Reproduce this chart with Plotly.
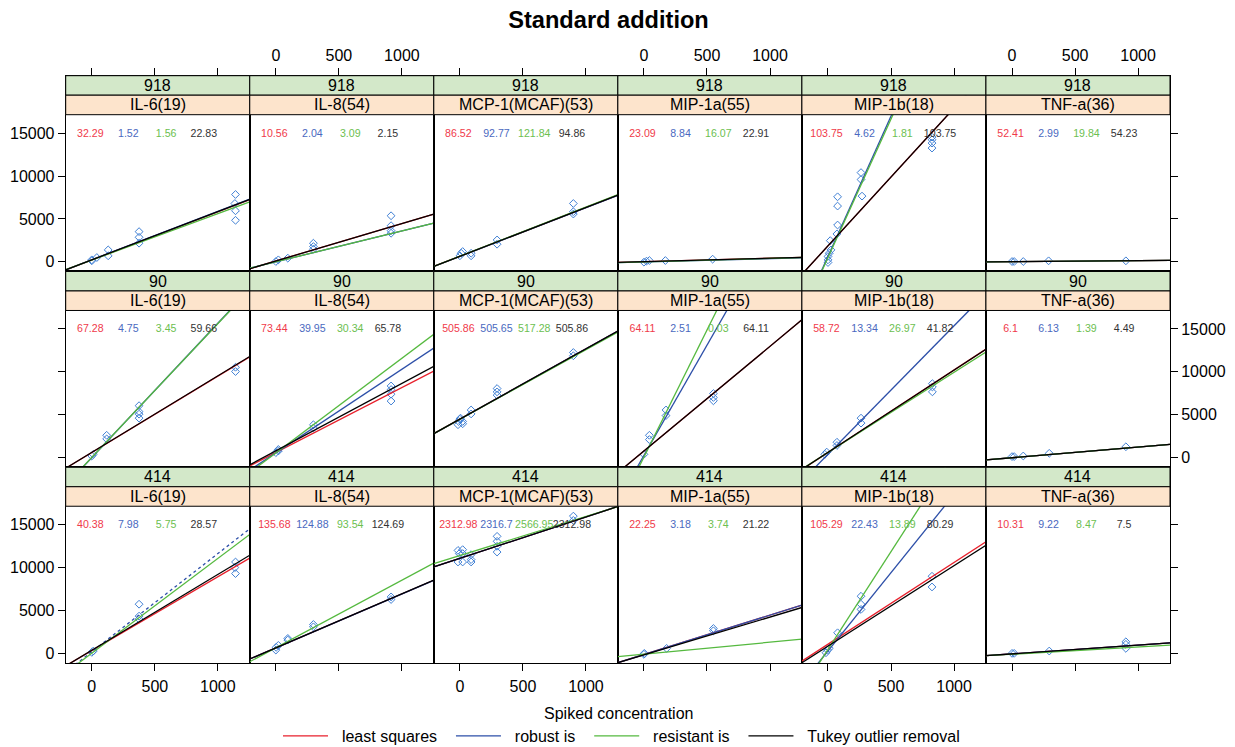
import plotly.graph_objects as go

# ---------------- data ----------------
ROW_LABELS = ["918", "90", "414"]
ANALYTES = ["IL-6(19)", "IL-8(54)", "MCP-1(MCAF)(53)", "MIP-1a(55)", "MIP-1b(18)", "TNF-a(36)"]
METHODS = ["least squares", "robust is", "resistant is", "Tukey outlier removal"]
X_TICKS = [0, 500, 1000]
Y_TICKS = [0, 5000, 10000, 15000]
X_RANGE = [-207, 1253]
Y_RANGE = [-1125, 17150]
STAT_X = [-12, 290, 590, 889]
STAT_Y = 14900

# row "918"
x_918 = [
    [0, 0, 40, 130, 130, 375, 375, 375, 1140, 1135, 1140, 1140],
    [0, 20, 95, 298, 298, 298, 914, 914, 914, 914],
    [0, 10, 22, 89, 89, 295, 295, 900, 900, 900],
    [0, 20, 43, 170, 545],
    [0, 0, 0, 10, 24, 18, 71, 76, 76, 76, 262, 262, 270, 825, 825, 825, 825],
    [0, 17, 89, 290, 903],
]
y_918 = [
    [120, 230, 500, 1390, 700, 3520, 2860, 2170, 7850, 6800, 5950, 4840],
    [35, 230, 430, 2170, 1780, 1470, 5370, 4210, 3630, 3330],
    [700, 1000, 1200, 1000, 700, 2550, 2050, 6800, 5840, 5570],
    [-40, 80, 150, 150, 310],
    [-80, 230, 620, 1000, 1390, 2470, 3250, 4290, 6500, 7580, 10400, 9590, 7660, 14230, 13840, 13260, 14540],
    [35, 35, 35, 116, 116],
]
icpt_918 = [
    [220, 240, 200, 230],
    [95, 0, 0, 95],
    [640, 630, 660, 640],
    [10, -20, 0, 10],
    [1863, 640, 500, 1863],
    [20, 20, 20, 20],
]
slope_918 = [
    [5.60, 5.65, 5.42, 5.62],
    [4.37, 3.60, 3.60, 4.37],
    [5.69, 5.68, 5.72, 5.69],
    [0.40, 0.38, 0.40, 0.41],
    [16.05, 32.7, 32.3, 16.05],
    [0.12, 0.12, 0.12, 0.12],
]
stat_918 = [
    ["32.29", "1.52", "1.56", "22.83"],
    ["10.56", "2.04", "3.09", "2.15"],
    ["86.52", "92.77", "121.84", "94.86"],
    ["23.09", "8.84", "16.07", "22.91"],
    ["103.75", "4.62", "1.81", "103.75"],
    ["52.41", "2.99", "19.84", "54.23"],
]

# row "90"
x_90 = [
    [0, 12, 118, 118, 375, 375, 375, 375, 1140, 1140],
    [0, 20, 20, 298, 298, 914, 914, 914, 914],
    [-15, -10, 0, 5, 22, 22, 89, 89, 295, 295, 295, 900, 900],
    [0, 43, 43, 175, 175, 551, 551, 551],
    [-25, -10, 71, 71, 262, 262, 828, 828, 828],
    [0, 17, 89, 295, 903],
]
y_90 = [
    [185, 380, 2600, 2180, 6050, 5360, 5060, 4600, 10530, 10030],
    [575, 770, 950, 3830, 3450, 8350, 7930, 7390, 6590],
    [3830, 4210, 4480, 4600, 4210, 3940, 5550, 5090, 8050, 7660, 7280, 12250, 11870],
    [380, 2600, 2100, 5550, 4900, 7470, 7010, 6620],
    [380, 640, 1410, 1790, 4020, 4600, 7660, 8230, 8620],
    [115, 115, 185, 500, 1260],
]
icpt_90 = [
    [600, 0, 20, 610],
    [600, 546, 543, 779],
    [4485, 4480, 4470, 4485],
    [770, 250, 65, 770],
    [599, 388, 600, 610],
    [-20, -20, -20, -20],
]
slope_90 = [
    [8.90, 15.66, 15.6, 8.92],
    [7.56, 9.75, 11.03, 7.87],
    [8.19, 8.19, 8.10, 8.19],
    [12.2, 25.7, 29.6, 12.2],
    [9.61, 14.98, 9.35, 9.60],
    [1.24, 1.24, 1.24, 1.24],
]
stat_90 = [
    ["67.28", "4.75", "3.45", "59.66"],
    ["73.44", "39.95", "30.34", "65.78"],
    ["505.86", "505.65", "517.28", "505.86"],
    ["64.11", "2.51", "0.03", "64.11"],
    ["58.72", "13.34", "26.97", "41.82"],
    ["6.1", "6.13", "1.39", "4.49"],
]

# row "414"
x_414 = [
    [0, 12, 375, 375, 375, 1140, 1135, 1140],
    [0, 2, 20, 95, 95, 298, 298, 914, 914],
    [-15, -15, -5, 22, 22, 22, 89, 89, 89, 295, 295, 295, 295, 900, 900],
    [0, 3, 180, 551, 551],
    [-16, -3, 10, 76, 262, 262, 262, 825, 825],
    [0, 17, 295, 903, 903, 903],
]
y_414 = [
    [115, 270, 5730, 4340, 3990, 10650, 10000, 9300],
    [380, 700, 930, 1550, 1740, 3090, 3370, 6280, 6580],
    [12000, 10650, 11630, 12090, 11630, 10650, 11510, 10930, 10650, 13640, 13060, 12480, 11810, 16000, 15500],
    [-115, 0, 580, 2900, 2630],
    [70, 380, 580, 2400, 5120, 5730, 6660, 8990, 7740],
    [0, 0, 270, 1350, 1050, 580],
]
icpt_414 = [
    [330, 190, 22, 360],
    [642, 640, 656, 645],
    [11070, 11070, 11410, 11070],
    [-138, -138, -100, -177],
    [1070, 284, 461, 847],
    [-62, -62, -100, -62],
]
slope_414 = [
    [8.60, 11.44, 11.05, 8.84],
    [6.29, 6.28, 7.88, 6.29],
    [4.83, 4.83, 4.55, 4.83],
    [4.60, 4.60, 1.40, 4.41],
    [9.52, 18.25, 22.8, 9.38],
    [1.03, 1.03, 0.846, 1.03],
]
stat_414 = [
    ["40.38", "7.98", "5.75", "28.57"],
    ["135.68", "124.88", "93.54", "124.69"],
    ["2312.98", "2316.7", "2566.95", "2312.98"],
    ["22.25", "3.18", "3.74", "21.22"],
    ["105.29", "22.43", "13.89", "80.29"],
    ["10.31", "9.22", "8.47", "7.5"],
]

ROWS_X = [x_918, x_90, x_414]
ROWS_Y = [y_918, y_90, y_414]
ROWS_I = [icpt_918, icpt_90, icpt_414]
ROWS_S = [slope_918, slope_90, slope_414]
ROWS_T = [stat_918, stat_90, stat_414]

# ---------------- styles / geometry ----------------
W, H = 1235, 747
OFF = 8  # page body margin of the html page
FONT = "Liberation Sans, Arial, sans-serif"
LINE_COLORS = ["#e8202c", "#2d4fa8", "#55b93f", "#000000"]
TEXT_COLORS = ["#f03a4a", "#4a69c0", "#6cc050", "#333333"]
POINT_COLOR = "#3f7fd4"
STRIP_OUTER = "#d3e8c9"
STRIP_INNER = "#fde4cc"
DASH = {(2, 0, 1): "dot"}
NB = "\u00a0\u00a0"

LEFT, COL_W = 65.7, 184.05
TOP, ROW_H, STRIP_H = 75.7, 195.77, 19.5
PANEL_H = ROW_H - 2 * STRIP_H
k = PANEL_H / (Y_RANGE[1] - Y_RANGE[0])
Y_TOP_EXT = Y_RANGE[1] + 2 * STRIP_H / k


def fx(p):
    return (p - OFF) / W


def fy(p):
    return 1 - (p - OFF) / H


fig = go.Figure()
layout_axes = {}
shapes = []
annotations = []

for r in range(3):
    for c in range(6):
        i = r * 6 + c + 1
        xn = "x" if i == 1 else f"x{i}"
        yn = "y" if i == 1 else f"y{i}"
        L = LEFT + c * COL_W
        T = TOP + r * ROW_H
        B = T + ROW_H

        fig.add_trace(go.Scatter(
            x=ROWS_X[r][c], y=ROWS_Y[r][c], mode="markers", xaxis=xn, yaxis=yn, showlegend=False,
            marker=dict(symbol="diamond-open", size=6, color=POINT_COLOR, line=dict(width=1, color=POINT_COLOR)),
            hoverinfo="skip"))
        for m in range(4):
            a = ROWS_I[r][c][m]
            b = ROWS_S[r][c][m]
            fig.add_trace(go.Scatter(
                x=X_RANGE, y=[a + b * X_RANGE[0], a + b * X_RANGE[1]], mode="lines",
                xaxis=xn, yaxis=yn, name=NB + METHODS[m] + NB, legendgroup=METHODS[m],
                showlegend=(i == 1),
                line=dict(color=LINE_COLORS[m], width=1.3, dash=DASH.get((r, c, m), "solid")),
                hoverinfo="skip"))
        fig.add_trace(go.Scatter(
            x=STAT_X, y=[STAT_Y] * 4, mode="text", text=ROWS_T[r][c], xaxis=xn, yaxis=yn,
            showlegend=False, textposition="middle center",
            textfont=dict(size=10.6, color=TEXT_COLORS, family=FONT), hoverinfo="skip"))

        common = dict(showgrid=False, zeroline=False, showline=True, linecolor="black", linewidth=1,
                      mirror=True, ticklen=7, tickwidth=1, tickcolor="black",
                      tickfont=dict(size=16, color="black", family=FONT))
        xa = dict(common, domain=[fx(L), fx(L + COL_W)], range=X_RANGE, anchor=yn,
                  tickvals=X_TICKS, ticktext=[str(v) for v in X_TICKS])
        if r == 0:
            xa.update(side="top", ticks="outside", showticklabels=(c % 2 == 1))
        elif r == 2:
            xa.update(side="bottom", ticks="outside", showticklabels=(c % 2 == 0), ticklabelstandoff=2)
        else:
            xa.update(ticks="", showticklabels=False)
        ya = dict(common, domain=[fy(B), fy(T)], range=[Y_RANGE[0], Y_TOP_EXT], anchor=xn,
                  tickvals=Y_TICKS, ticktext=[str(v) for v in Y_TICKS])
        if c == 0:
            ya.update(side="left", ticks="outside", showticklabels=(r != 1))
        elif c == 5:
            ya.update(side="right", ticks="outside", showticklabels=(r == 1))
        else:
            ya.update(ticks="", showticklabels=False)
        layout_axes["xaxis" if i == 1 else f"xaxis{i}"] = xa
        layout_axes["yaxis" if i == 1 else f"yaxis{i}"] = ya

        # strips
        for s, (col, lab) in enumerate([(STRIP_OUTER, ROW_LABELS[r]), (STRIP_INNER, ANALYTES[c])]):
            t0 = T + s * STRIP_H
            t1 = t0 + STRIP_H
            shapes.append(dict(type="rect", xref="paper", yref="paper", layer="above",
                               x0=fx(L), x1=fx(L + COL_W), y0=fy(t1), y1=fy(t0),
                               fillcolor=col, line=dict(color="black", width=1)))
            annotations.append(dict(xref="paper", yref="paper", x=fx(L + COL_W / 2), y=fy((t0 + t1) / 2),
                                    text=lab, showarrow=False, xanchor="center", yanchor="middle",
                                    font=dict(size=16, color="black", family=FONT)))

annotations.append(dict(xref="paper", yref="paper", x=fx(618.5), y=fy(713), text="Spiked concentration",
                        showarrow=False, xanchor="center", yanchor="middle",
                        font=dict(size=16, color="black", family=FONT)))

fig.update_layout(
    width=W, height=H, autosize=False,
    margin=dict(l=0, r=0, t=0, b=0, autoexpand=False),
    paper_bgcolor="white", plot_bgcolor="white",
    font=dict(family=FONT, size=16, color="black"),
    title=dict(text="Standard addition", x=fx(608.5), xanchor="center", xref="paper",
               y=fy(19.5), yanchor="middle", yref="container",
               font=dict(size=23.6, family=FONT, color="black", weight="bold")),
    shapes=shapes, annotations=annotations,
    legend=dict(orientation="h", x=fx(278), xanchor="left", y=fy(736), yanchor="middle",
                font=dict(size=16, family=FONT, color="black"), itemwidth=45,
                bgcolor="rgba(0,0,0,0)", traceorder="normal"),
    **layout_axes,
)

fig.write_html("out.html")
